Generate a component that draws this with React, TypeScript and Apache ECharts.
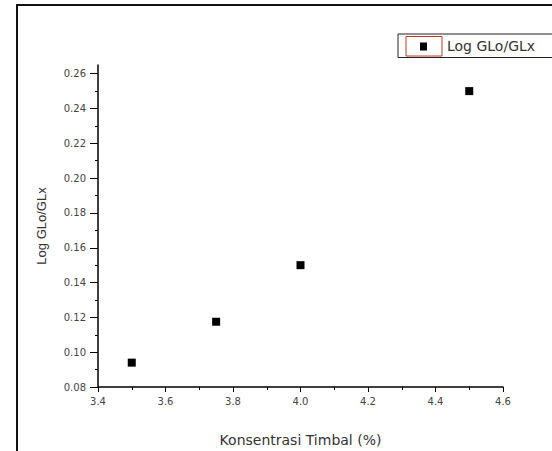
import React, { useEffect, useRef } from "react";
import * as echarts from "echarts";

const xValues = [3.5, 3.75, 4.0, 4.5];
const yValues = [0.094, 0.1175, 0.15, 0.25];
const seriesName = "Log GLo/GLx";
const xAxisName = "Konsentrasi Timbal (%)";
const yAxisName = "Log GLo/GLx";
const xTicks = [3.4, 3.6, 3.8, 4.0, 4.2, 4.4, 4.6];
const yTicks = [0.08, 0.1, 0.12, 0.14, 0.16, 0.18, 0.2, 0.22, 0.24, 0.26];

export default function App() {
  const ref = useRef<HTMLDivElement>(null);
  useEffect(() => {
    document.body.style.margin = "0";
    if (!ref.current) return;
    const chart = echarts.init(ref.current, undefined, { renderer: "svg" });
    const labelStyle = {
      fontFamily: "DejaVu Sans",
      fontSize: 10,
      color: "#444",
    };
    chart.setOption({
      animation: false,
      backgroundColor: "#fff",
      grid: {
        left: 98,
        right: 49,
        top: 65,
        bottom: 64,
        containLabel: false,
        outerBoundsMode: "none",
      },
      xAxis: {
        type: "value",
        min: 3.4,
        max: 4.6,
        interval: 0.2,
        name: xAxisName,
        nameLocation: "middle",
        nameGap: 46,
        nameTextStyle: { fontFamily: "DejaVu Sans", fontSize: 14, color: "#333" },
        axisLine: { show: true, onZero: false, lineStyle: { color: "#000", width: 1.5 } },
        axisTick: { show: true, inside: false, length: 5, lineStyle: { color: "#000", width: 1 }, customValues: xTicks },
        minorTick: { show: true, splitNumber: 2, length: 3, lineStyle: { color: "#000", width: 1 } },
        axisLabel: { ...labelStyle, margin: 9, customValues: xTicks, formatter: (v: number) => v.toFixed(1) },
        splitLine: { show: false },
      },
      yAxis: {
        type: "value",
        min: 0.08,
        max: 0.265,
        interval: 0.02,
        name: yAxisName,
        nameLocation: "middle",
        nameGap: 50,
        nameTextStyle: { fontFamily: "Liberation Sans", fontSize: 13, color: "#333" },
        axisLine: { show: true, onZero: false, lineStyle: { color: "#000", width: 1.5 } },
        axisTick: { show: true, inside: false, length: 8, lineStyle: { color: "#000", width: 1 }, customValues: yTicks },
        minorTick: { show: true, splitNumber: 2, length: 3, lineStyle: { color: "#000", width: 1 } },
        axisLabel: { ...labelStyle, margin: 12, customValues: yTicks, formatter: (v: number) => v.toFixed(2) },
        splitLine: { show: false },
      },
      series: [
        {
          name: seriesName,
          type: "scatter",
          symbol: "rect",
          symbolSize: 8,
          itemStyle: { color: "#000", opacity: 1 },
          data: xValues.map((x, i) => [x, yValues[i]]),
        },
      ],
      graphic: [
        {
          type: "rect",
          shape: { x: 17, y: 5, width: 600, height: 500 },
          style: { fill: "none", stroke: "#111", lineWidth: 2 },
          silent: true,
        },
        {
          type: "rect",
          shape: { x: 398, y: 34, width: 200, height: 23.5 },
          style: { fill: "#fff", stroke: "#222", lineWidth: 1 },
          silent: true,
        },
        {
          type: "rect",
          shape: { x: 406, y: 36.5, width: 36, height: 19.5 },
          style: { fill: "none", stroke: "#c0392b", lineWidth: 1 },
          silent: true,
        },
        {
          type: "rect",
          shape: { x: 420, y: 42.5, width: 7, height: 8 },
          style: { fill: "#000" },
          silent: true,
        },
        {
          type: "text",
          x: 447,
          y: 46,
          style: {
            text: seriesName,
            fontFamily: "DejaVu Sans",
            fontSize: 14,
            fill: "#333",
            verticalAlign: "middle",
            align: "left",
          },
          silent: true,
        },
      ],
    });
    return () => chart.dispose();
  }, []);
  return <div ref={ref} style={{ width: 552, height: 451 }} />;
}
